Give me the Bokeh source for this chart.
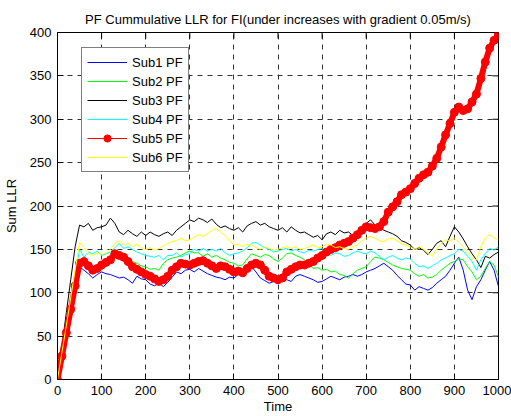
from bokeh.plotting import figure
from bokeh.models import Legend, LegendItem, FixedTicker, Range1d, ColumnDataSource
from bokeh.embed import file_html
from bokeh.resources import INLINE
import math

time = list(range(0, 1001, 10))

sub1 = [0, 26, 52, 78, 104, 130, 126, 122, 117, 121, 124, 122, 121, 119, 117, 118, 115, 111, 119, 116,
        115, 110, 108, 111, 107, 112, 118, 124, 122, 126, 127, 124, 128, 125, 122, 120, 118, 117, 115, 118,
        117, 121, 126, 128, 130, 124, 117, 114, 111, 113, 115, 117, 115, 113, 119, 121, 119, 117, 115, 112,
        113, 116, 119, 117, 115, 118, 119, 121, 119, 121, 124, 126, 128, 131, 134, 130, 126, 120, 115, 110,
        109, 103, 107, 105, 103, 106, 111, 115, 119, 126, 134, 141, 126, 103, 92, 107, 115, 126, 136, 126, 107]
sub2 = [0, 28, 55, 83, 110, 138, 134, 128, 123, 125, 126, 131, 136, 140, 143, 140, 138, 136, 134, 131,
        130, 127, 128, 126, 134, 138, 140, 141, 143, 146, 148, 146, 146, 142, 145, 141, 143, 140, 138, 135,
        134, 131, 132, 139, 145, 143, 141, 144, 143, 139, 136, 140, 145, 146, 143, 141, 138, 133, 128, 129,
        126, 127, 124, 125, 121, 120, 117, 122, 126, 128, 130, 136, 141, 140, 138, 135, 132, 130, 128, 127,
        126, 122, 119, 121, 117, 118, 121, 126, 130, 134, 136, 139, 138, 130, 124, 115, 119, 128, 136, 132, 118]
sub3 = [0, 38, 77, 115, 153, 178, 176, 180, 172, 175, 176, 178, 186, 180, 170, 167, 172, 168, 165, 170,
        166, 170, 167, 165, 168, 170, 166, 172, 176, 180, 184, 182, 186, 184, 181, 185, 179, 175, 177, 174,
        172, 175, 170, 177, 180, 182, 178, 180, 176, 174, 172, 175, 170, 176, 172, 169, 170, 167, 164, 166,
        161, 168, 170, 167, 172, 169, 170, 166, 163, 172, 180, 184, 178, 176, 172, 170, 168, 165, 160, 158,
        155, 150, 152, 149, 144, 150, 157, 160, 153, 165, 176, 170, 162, 153, 145, 138, 129, 142, 140, 144, 147]
sub4 = [0, 30, 60, 90, 120, 150, 141, 147, 145, 148, 143, 145, 147, 152, 157, 151, 153, 150, 147, 145,
        143, 142, 141, 143, 138, 143, 143, 146, 141, 144, 145, 150, 148, 151, 148, 150, 148, 151, 146, 143,
        145, 146, 148, 152, 157, 158, 155, 152, 150, 147, 148, 150, 151, 148, 150, 147, 146, 149, 148, 150,
        151, 147, 143, 146, 145, 142, 143, 146, 148, 146, 145, 148, 146, 142, 138, 141, 143, 140, 138, 140,
        139, 134, 130, 131, 128, 131, 134, 138, 140, 143, 145, 150, 148, 142, 136, 126, 138, 145, 151, 149, 153]
sub5 = [0, 27, 54, 81, 108, 134, 136, 131, 126, 128, 132, 135, 138, 145, 143, 141, 136, 130, 127, 124,
        121, 119, 116, 113, 115, 119, 126, 130, 134, 133, 132, 134, 136, 137, 134, 131, 128, 131, 130, 127,
        124, 125, 123, 128, 132, 134, 132, 126, 119, 117, 115, 117, 124, 127, 130, 132, 132, 134, 136, 140,
        143, 147, 150, 152, 155, 157, 159, 163, 167, 172, 176, 175, 174, 176, 182, 193, 199, 205, 213, 216,
        220, 226, 232, 236, 239, 246, 255, 268, 282, 295, 308, 314, 310, 312, 320, 329, 347, 366, 382, 391, 398]
sub6 = [0, 31, 62, 94, 126, 158, 152, 145, 143, 146, 144, 146, 150, 157, 160, 155, 157, 153, 156, 152,
        150, 152, 149, 151, 154, 157, 159, 160, 163, 160, 161, 164, 167, 165, 168, 172, 174, 170, 166, 160,
        155, 156, 153, 156, 155, 152, 150, 153, 151, 149, 150, 152, 153, 151, 153, 150, 151, 153, 155, 152,
        153, 156, 155, 152, 153, 151, 150, 153, 155, 160, 163, 165, 163, 160, 159, 162, 163, 160, 157, 155,
        153, 150, 153, 150, 146, 142, 151, 157, 161, 160, 163, 158, 153, 147, 140, 138, 153, 163, 167, 163, 161]

names = ["Sub1 PF", "Sub2 PF", "Sub3 PF", "Sub4 PF", "Sub5 PF", "Sub6 PF"]
colors = ["#0000ff", "#00ff00", "#000000", "#00ffff", "#ff0000", "#ffff00"]
x_ticks = list(range(0, 1001, 100))
y_ticks = list(range(0, 401, 50))
x_min, x_max = 0, 1000
y_min, y_max = 0, 400

FONT = "Liberation Sans"

p = figure(width=511, height=416, output_backend="svg", toolbar_location=None,
           x_range=Range1d(x_min, x_max), y_range=Range1d(y_min, y_max),
           title="PF Cummulative LLR for FI(under increases with gradient 0.05m/s)",
           min_border_left=56, min_border_right=13, min_border_top=32, min_border_bottom=36,
           background_fill_color="white", border_fill_color="white")

p.title.align = "center"
p.title.text_font = FONT
p.title.text_font_size = "13px"
p.title.text_font_style = "normal"
p.title.text_color = "black"
p.title.standoff = 12

p.outline_line_color = "black"
p.outline_line_width = 1
p.outline_line_alpha = 1

for ax in (p.xaxis[0], p.yaxis[0]):
    ax.major_tick_in = 6
    ax.major_tick_out = 0
    ax.minor_tick_line_color = None
    ax.axis_line_color = "black"
    ax.major_tick_line_color = "black"
    ax.major_label_text_font = FONT
    ax.major_label_text_font_size = "13px"
    ax.major_label_text_color = "black"
    ax.axis_label_text_font = FONT
    ax.axis_label_text_font_size = "13px"
    ax.axis_label_text_font_style = "normal"
    ax.axis_label_text_color = "black"

p.xaxis[0].ticker = FixedTicker(ticks=x_ticks)
p.yaxis[0].ticker = FixedTicker(ticks=y_ticks)
p.xaxis[0].axis_label = "Time"
p.yaxis[0].axis_label = "Sum LLR"
p.xaxis[0].major_label_standoff = 6
p.xaxis[0].axis_label_standoff = 1
p.yaxis[0].major_label_standoff = 6
p.yaxis[0].axis_label_standoff = 8

p.xgrid[0].ticker = FixedTicker(ticks=x_ticks)
p.ygrid[0].ticker = FixedTicker(ticks=y_ticks)
for g in (p.xgrid[0], p.ygrid[0]):
    g.grid_line_color = "#333333"
    g.grid_line_dash = "5 5"
    g.grid_line_width = 1

# inward tick marks on the top and right edges of the box (clipped to the frame)
p.scatter(x_ticks, [y_max] * len(x_ticks), marker="dash", angle=math.pi / 2, size=12,
          line_color="black", line_width=1)
p.scatter([x_max] * len(y_ticks), y_ticks, marker="dash", size=12,
          line_color="black", line_width=1)

series = [sub1, sub2, sub3, sub4, sub5, sub6]
items = []
for i, (vals, col, name) in enumerate(zip(series, colors, names)):
    if i == 4:
        p.line(time, vals, line_color=col, line_width=6)
        thin = p.line(time, vals, line_color=col, line_width=1)
        dots = p.scatter(time, vals, marker="circle", size=8, fill_color=col, line_color=col)
        items.append(LegendItem(label=name, renderers=[thin, dots]))
    else:
        r = p.line(time, vals, line_color=col, line_width=1)
        items.append(LegendItem(label=name, renderers=[r]))

legend = Legend(items=items, location=(24, 207), border_line_color="black", border_line_width=1,
                background_fill_color="white", background_fill_alpha=1,
                label_text_font=FONT, label_text_font_size="13px", label_text_color="black",
                glyph_width=40, glyph_height=18, label_height=18, spacing=1, padding=5,
                label_standoff=5, margin=0)
p.add_layout(legend)

open("out.html", "w").write(file_html(p, INLINE))
